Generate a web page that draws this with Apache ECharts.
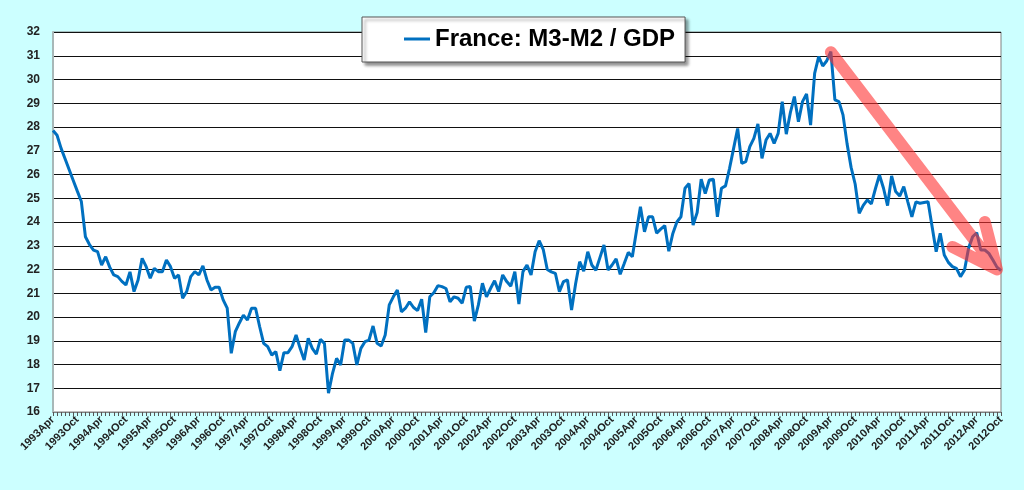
<!DOCTYPE html>
<html>
<head>
<meta charset="utf-8">
<script src="https://cdn.jsdelivr.net/npm/echarts@6/dist/echarts.min.js"></script>
<style>
html, body { margin: 0; padding: 0; background: #CCFFFF; }
#main { width: 1024px; height: 490px; }
</style>
</head>
<body>
<div id="main"></div>
<script>
// 月度数据: 1993Apr - 2012Oct
var startYear = 1993;
var monthNames = ['Jan', 'Feb', 'Mar', 'Apr', 'May', 'Jun', 'Jul', 'Aug', 'Sep', 'Oct', 'Nov', 'Dec'];
var startMonth = 3; // Apr
var seriesName = 'France: M3-M2 / GDP';

var ratio = [
	27.85, 27.65, 27.1, 26.65, 26.2, 25.75, 25.3, 24.86, 23.38, 23.05,
	22.82, 22.75, 22.19, 22.54, 22.1, 21.77, 21.7, 21.5, 21.35, 21.9,
	21.07, 21.56, 22.47, 22.12, 21.63, 22.05, 21.91, 21.91, 22.4, 22.12,
	21.63, 21.77, 20.79, 21.07, 21.7, 21.91, 21.77, 22.15, 21.56, 21.14,
	21.25, 21.25, 20.72, 20.37, 18.47, 19.38, 19.75, 20.08, 19.87, 20.37,
	20.37, 19.6, 18.89, 18.75, 18.4, 18.54, 17.74, 18.5, 18.5, 18.75,
	19.24, 18.68, 18.19, 19.1, 18.68, 18.44, 19.06, 18.89, 16.79, 17.63,
	18.26, 17.98, 19.03, 19.03, 18.89, 17.98, 18.68, 18.96, 19.03, 19.62,
	18.89, 18.78, 19.24, 20.51, 20.85, 21.14, 20.22, 20.37, 20.64, 20.4,
	20.27, 20.75, 19.34, 20.85, 21.02, 21.32, 21.28, 21.2, 20.64, 20.85,
	20.79, 20.58, 21.25, 21.28, 19.83, 20.51, 21.42, 20.85, 21.2, 21.53,
	21.07, 21.77, 21.49, 21.3, 21.91, 20.54, 21.91, 22.19, 21.77, 22.75,
	23.21, 22.85, 22.0, 21.9, 21.84, 21.07, 21.49, 21.56, 20.29, 21.4,
	22.33, 21.93, 22.75, 22.19, 21.97, 22.5, 23.03, 21.98, 22.19, 22.45,
	21.8, 22.25, 22.72, 22.54, 23.6, 24.64, 23.59, 24.22, 24.22, 23.53,
	23.7, 23.85, 22.77, 23.52, 24.0, 24.22, 25.42, 25.62, 23.87, 24.4,
	25.8, 25.2, 25.77, 25.8, 24.22, 25.42, 25.52, 26.26, 27.1, 27.94,
	26.47, 26.54, 27.17, 27.52, 28.13, 26.68, 27.45, 27.73, 27.31, 27.73,
	29.07, 27.7, 28.6, 29.28, 28.22, 29.07, 29.39, 28.08, 30.26, 30.96,
	30.57, 30.79, 31.17, 29.14, 29.07, 28.51, 27.3, 26.3, 25.6, 24.37,
	24.7, 24.93, 24.76, 25.4, 25.98, 25.42, 24.69, 25.94, 25.28, 25.09,
	25.49, 24.85, 24.22, 24.85, 24.79, 24.82, 24.85, 23.8, 22.75, 23.52,
	22.61, 22.3, 22.12, 22.05, 21.7, 21.98, 22.9, 23.38, 23.55, 22.82,
	22.82, 22.68, 22.4, 22.1, 21.95
];

// 趋势箭头 (分类索引, 数值): 箭杆 + 两侧箭头, 一笔画完
var arrowPath = [
	[192, 31.15], [233, 22.0], [222, 22.95], [233, 22.0], [230, 24.0]
];

var categories = [];
for (var k = 0; k < ratio.length; k++) {
	var m = startMonth + k;
	categories.push((startYear + Math.floor(m / 12)) + monthNames[m % 12]);
}

var font = 'Liberation Sans, Arial, sans-serif';

var myChart = echarts.init(document.getElementById('main'));
var option = {
	backgroundColor: '#CCFFFF',
	animation: false,
	textStyle: { fontFamily: font },
	grid: {
		left: 53,
		right: 23,
		top: 32,
		bottom: 78,
		show: true,
		backgroundColor: '#ffffff',
		borderColor: '#808080',
		borderWidth: 1
	},
	legend: {
		left: 362,
		top: 17,
		data: [{ name: seriesName, icon: 'rect' }],
		itemWidth: 26,
		itemHeight: 3,
		itemGap: 4,
		padding: [10, 10, 11, 42],
		backgroundColor: '#ffffff',
		borderColor: '#555555',
		borderWidth: 1,
		shadowColor: 'rgba(0,0,0,0.45)',
		shadowBlur: 3,
		shadowOffsetX: 3,
		shadowOffsetY: 3,
		textStyle: {
			fontFamily: font,
			fontSize: 24,
			fontWeight: 'bold',
			color: '#000'
		}
	},
	xAxis: {
		type: 'category',
		data: categories,
		boundaryGap: false,
		axisLine: { lineStyle: { color: '#808080', width: 1 } },
		axisTick: {
			interval: 0,
			length: 4,
			lineStyle: { color: '#555' }
		},
		axisLabel: {
			interval: 5,
			rotate: 45,
			margin: 6,
			fontFamily: font,
			fontSize: 11,
			fontWeight: 'bold',
			color: '#222'
		},
		splitLine: { show: false }
	},
	yAxis: {
		type: 'value',
		min: 16,
		max: 32,
		interval: 1,
		axisLine: { show: true, lineStyle: { color: '#a8b8b8', width: 2 } },
		axisTick: { show: false },
		axisLabel: {
			margin: 13,
			fontFamily: font,
			fontSize: 12,
			fontWeight: 'bold',
			color: '#222'
		},
		splitLine: { lineStyle: { color: '#111', width: 1 } }
	},
	series: [{
		name: seriesName,
		type: 'line',
		data: ratio,
		showSymbol: false,
		color: '#0070C0',
		lineStyle: { width: 3, color: '#0070C0' },
		z: 2
	}, {
		name: 'arrow',
		type: 'line',
		data: arrowPath,
		showSymbol: false,
		silent: true,
		z: 3,
		lineStyle: {
			color: '#ff3232',
			opacity: 0.6,
			width: 12,
			cap: 'round',
			join: 'round'
		}
	}]
};
myChart.setOption(option);
</script>
</body>
</html>
